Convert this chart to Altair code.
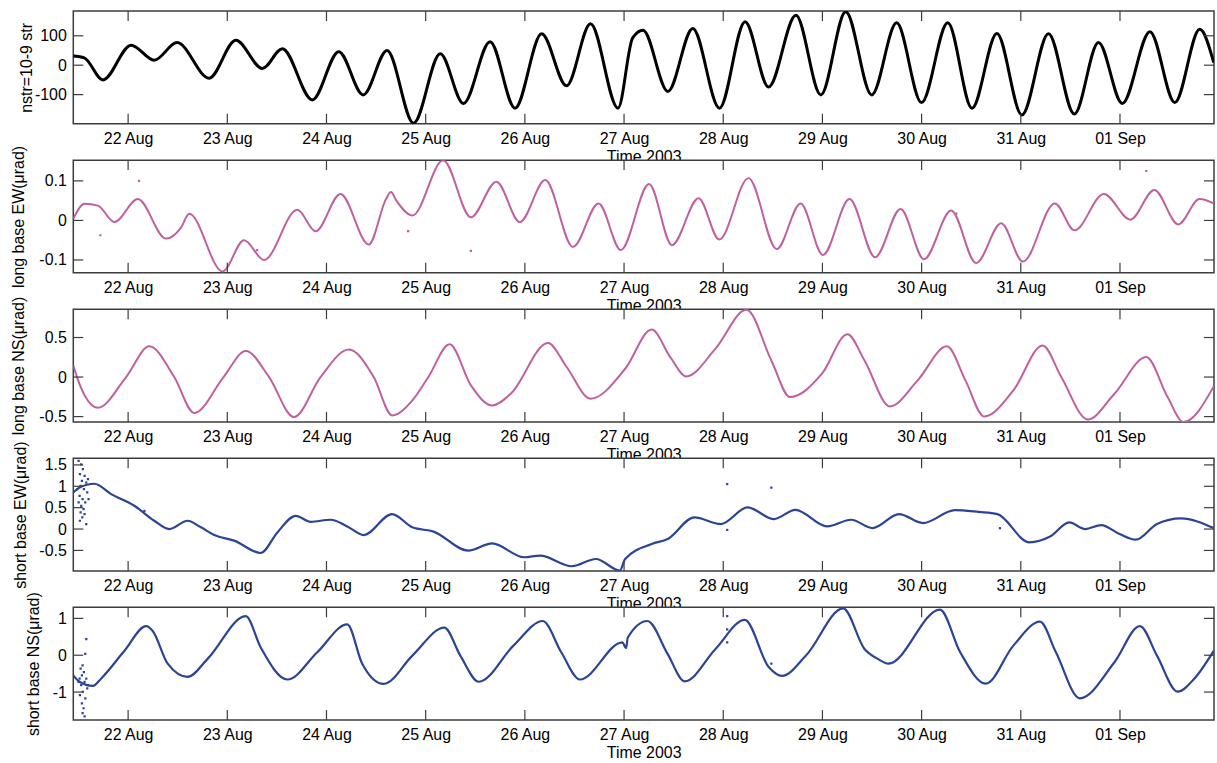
import altair as alt
import pandas as pd

# ---------------- data (time = fractional day of August 2003; 32 = 1 Sep) ----------------
p1_day = [21.447, 21.558, 21.746, 22.030, 22.264, 22.493, 22.817, 23.086, 23.354, 23.555,
          23.857, 24.124, 24.370, 24.611, 24.878, 25.147, 25.381, 25.649, 25.901, 26.169,
          26.420, 26.662, 26.939, 27.087, 27.191, 27.442, 27.693, 27.962, 28.220, 28.457,
          28.733, 28.984, 29.235, 29.497, 29.748, 29.999, 30.264, 30.508, 30.759, 31.011,
          31.279, 31.540, 31.783, 32.023, 32.302, 32.553, 32.804, 32.945]
p1_val = [31, 25, -50, 68, 17, 77, -44, 85, -11, 56,
          -118, 46, -101, 50, -197, 39, -130, 80, -146, 107,
          -70, 141, -146, 93, 119, -89, 125, -146, 148, -74,
          170, -101, 182, -101, 144, -127, 144, -146, 108, -169,
          107, -166, 77, -130, 114, -127, 122, 9]

p2_day = [21.447, 21.561, 21.695, 21.862, 22.098, 22.382, 22.533, 22.616, 22.952, 23.169,
          23.370, 23.706, 23.890, 24.141, 24.426, 24.600, 24.650, 24.705, 24.866, 25.177,
          25.456, 25.713, 25.949, 26.206, 26.485, 26.743, 26.968, 27.252, 27.483, 27.751,
          27.960, 28.255, 28.539, 28.780, 29.005, 29.273, 29.531, 29.788, 30.024, 30.298,
          30.550, 30.802, 31.021, 31.343, 31.542, 31.837, 32.105, 32.346, 32.587, 32.802,
          32.945]
p2_val = [0.004, 0.042, 0.0375, -0.004, 0.054, -0.046, -0.018, 0.017, -0.129, -0.05,
          -0.10, 0.027, -0.0275, 0.067, -0.061, 0.054, 0.072, 0.05, 0.0125, 0.152,
          0.008, 0.098, -0.004, 0.102, -0.067, 0.043, -0.075, 0.092, -0.0625, 0.056,
          -0.048, 0.107, -0.0725, 0.043, -0.0875, 0.054, -0.093, 0.029, -0.098, 0.025,
          -0.108, -0.007, -0.104, 0.043, -0.025, 0.067, 0.002, 0.077, -0.01, 0.054,
          0.043]
p2_dot_day = [21.72, 22.11, 23.30, 24.823, 25.456, 30.35, 32.265]
p2_dot_val = [-0.0375, 0.10, -0.075, -0.027, -0.077, 0.017, 0.125]

p3_day = [21.447, 21.49, 21.695, 21.980, 22.214, 22.465, 22.667, 22.962, 23.186, 23.421,
          23.672, 23.940, 24.225, 24.476, 24.662, 24.866, 25.027, 25.241, 25.456, 25.670,
          25.858, 26.233, 26.421, 26.662, 27.011, 27.279, 27.466, 27.627, 27.922, 28.233,
          28.485, 28.673, 28.995, 29.252, 29.424, 29.681, 29.960, 30.255, 30.442, 30.630,
          30.925, 31.220, 31.408, 31.676, 31.944, 32.265, 32.480, 32.641, 32.945]
p3_val = [0.15, -0.02, -0.387, 0.0, 0.389, 0.0, -0.455, 0.0, 0.33, 0.0,
          -0.506, 0.0, 0.347, 0.0, -0.485, -0.295, 0.0, 0.414, -0.105, -0.359,
          -0.21, 0.43, 0.127, -0.274, 0.105, 0.60, 0.253, 0.008, 0.359, 0.852,
          0.21, -0.253, 0.042, 0.54, 0.21, -0.371, -0.042, 0.388, -0.042, -0.498,
          -0.169, 0.40, 0.0, -0.536, -0.211, 0.253, -0.253, -0.57, -0.118]

p4_day = [21.447, 21.510, 21.661, 21.829, 22.063, 22.264, 22.415, 22.600, 22.734, 22.868,
          23.069, 23.337, 23.505, 23.689, 23.840, 24.041, 24.209, 24.376, 24.661, 24.866,
          25.080, 25.429, 25.670, 25.992, 26.153, 26.475, 26.716, 26.957, 27.011, 27.279,
          27.440, 27.708, 27.976, 28.244, 28.512, 28.727, 29.048, 29.290, 29.504, 29.772,
          30.013, 30.335, 30.576, 30.764, 31.086, 31.300, 31.488, 31.649, 31.810, 31.997,
          32.158, 32.373, 32.614, 32.945]
p4_val = [0.855, 0.97, 1.06, 0.816, 0.544, 0.194, 0.0, 0.194, 0.04, -0.14,
          -0.27, -0.56, -0.078, 0.31, 0.17, 0.218, 0.062, -0.14, 0.35, 0.04,
          -0.06, -0.505, -0.334, -0.66, -0.62, -0.87, -0.70, -0.97, -0.70, -0.35,
          -0.233, 0.272, 0.117, 0.505, 0.233, 0.45, 0.062, 0.218, 0.023, 0.35,
          0.14, 0.443, 0.40, 0.35, -0.31, -0.17, 0.155, 0.0, 0.093, -0.117,
          -0.249, 0.117, 0.249, 0.023]
p4_dot_day = [21.501, 21.527, 21.544, 21.514, 21.561, 21.595, 21.534, 21.578, 21.521, 21.487,
              21.554, 21.588, 21.511, 21.541, 21.501, 21.601, 21.568, 21.527, 21.551, 21.521,
              21.561, 21.538, 21.514, 21.578, 22.164, 28.04, 28.485, 28.04, 30.79]
p4_dot_val = [1.593, 1.515, 1.399, 1.282, 1.243, 1.166, 1.127, 1.088, 1.010, 0.932,
              0.932, 0.855, 0.777, 0.699, 0.622, 0.699, 0.622, 0.544, 0.466, 0.389,
              0.350, 0.272, 0.194, 0.117, 0.427, 1.05, 0.97, -0.02, 0.02]

p5_day = [21.447, 21.510, 21.645, 21.729, 21.963, 22.181, 22.248, 22.399, 22.600, 22.801,
          23.186, 23.337, 23.606, 23.907, 24.209, 24.360, 24.577, 24.866, 25.188, 25.349,
          25.536, 25.885, 26.180, 26.367, 26.555, 26.984, 27.020, 27.038, 27.236, 27.440,
          27.611, 27.922, 28.217, 28.458, 28.593, 28.834, 29.209, 29.424, 29.558, 29.665,
          30.185, 30.389, 30.646, 30.925, 31.193, 31.354, 31.595, 31.944, 32.201, 32.373,
          32.582, 32.748, 32.945]
p5_val = [-0.55, -0.72, -0.83, -0.63, 0.12, 0.79, 0.66, -0.23, -0.59, -0.10,
          1.06, 0.21, -0.66, 0.08, 0.84, -0.23, -0.78, -0.01, 0.75, -0.01,
          -0.72, 0.26, 0.93, 0.08, -0.66, 0.35, 0.19, 0.48, 0.93, 0.03,
          -0.71, 0.17, 0.96, -0.32, -0.56, -0.01, 1.27, 0.17, -0.10, -0.23,
          1.24, 0.08, -0.77, 0.26, 0.91, 0.08, -1.17, -0.19, 0.79, -0.01,
          -0.99, -0.64, 0.12]
p5_dot_day = [21.578, 21.568, 21.541, 21.521, 21.554, 21.534, 21.511, 21.561, 21.527, 21.588,
              21.544, 21.514, 21.568, 21.534, 21.551, 21.541, 21.561, 21.501, 21.595, 21.578,
              28.04, 28.04, 28.04, 28.485]
p5_dot_val = [0.437, 0.035, -0.278, -0.367, -0.457, -0.546, -0.635, -0.725, -0.814, -0.903,
              -0.992, -1.081, -1.171, -1.305, -1.440, -1.574, -1.662, -0.725, -0.814, -0.635,
              1.06, 0.70, 0.35, -0.23]

x_tick_day = [22, 23, 24, 25, 26, 27, 28, 29, 30, 31, 32]

# ---------------- helpers ----------------
W, H = 1144, 113
TICK = 10
FRAME = "#3c3c3c"
PINK = "#c0609f"
BLUE = "#2b4494"
FONT = "Liberation Sans"


def to_iso(days):
    base = pd.Timestamp("2003-08-01")
    return [(base + pd.Timedelta(days=d - 1)).strftime("%Y-%m-%dT%H:%M:%S") for d in days]


X_DOMAIN = [alt.DateTime(year=2003, month=8, date=21, hours=10, minutes=44),
            alt.DateTime(year=2003, month=9, date=1, hours=22, minutes=45)]
X_VALUES = [alt.DateTime(year=2003, month=8, date=d) for d in range(22, 32)] + \
           [alt.DateTime(year=2003, month=9, date=1)]


def panel(days, vals, color, sw, ydom, yvals, ytitle, title_x, dot_days=None, dot_vals=None):
    xscale = alt.Scale(domain=X_DOMAIN)
    yscale = alt.Scale(domain=ydom, nice=False, zero=False)
    xaxis = alt.Axis(values=X_VALUES, format="%d %b", title="Time 2003",
                     labelPadding=7, titlePadding=2)
    yaxis = alt.Axis(values=yvals, title=ytitle, labelExpr="datum.value + ''",
                     labelPadding=7, titleX=title_x, titleBaseline="middle")
    xe = alt.X("t:T", scale=xscale, axis=xaxis)
    ye = alt.Y("v:Q", scale=yscale, axis=yaxis)

    df = pd.DataFrame({"t": to_iso(days), "v": vals})
    line = alt.Chart(df).mark_line(
        color=color, strokeWidth=sw, interpolate="monotone", clip=True, strokeJoin="round"
    ).encode(x=xe, y=ye)
    layers = [line]
    if dot_days:
        ddf = pd.DataFrame({"t": to_iso(dot_days), "v": dot_vals})
        layers.append(
            alt.Chart(ddf).mark_square(color=color, size=5, opacity=1, clip=True).encode(x=xe, y=ye)
        )
    xt = pd.DataFrame({"t": to_iso(x_tick_day)})
    yt = pd.DataFrame({"v": yvals})
    top = alt.Chart(xt).mark_rule(color=FRAME, strokeWidth=1.2).encode(
        x=xe, y=alt.value(0), y2=alt.value(TICK))
    bot = alt.Chart(xt).mark_rule(color=FRAME, strokeWidth=1.2).encode(
        x=xe, y=alt.value(H - TICK), y2=alt.value(H))
    left = alt.Chart(yt).mark_rule(color=FRAME, strokeWidth=1.2).encode(
        y=ye, x=alt.value(0), x2=alt.value(TICK))
    right = alt.Chart(yt).mark_rule(color=FRAME, strokeWidth=1.2).encode(
        y=ye, x=alt.value(W - TICK), x2=alt.value(W))
    return alt.layer(*layers, top, bot, left, right).properties(width=W, height=H)


c1 = panel(p1_day, p1_val, "black", 3, [-199, 184], [100, 0, -100], "nstr=10-9 str", -47)
c2 = panel(p2_day, p2_val, PINK, 2, [-0.1325, 0.1525], [0.1, 0, -0.1],
           "long base EW(μrad)", -54.5, p2_dot_day, p2_dot_val)
c3 = panel(p3_day, p3_val, PINK, 2, [-0.567, 0.858], [0.5, 0, -0.5],
           "long base NS(μrad)", -55)
c4 = panel(p4_day, p4_val, BLUE, 2.2, [-0.98, 1.655], [1.5, 1, 0.5, 0, -0.5],
           "short base EW(μrad)", -53, p4_dot_day, p4_dot_val)
c5 = panel(p5_day, p5_val, BLUE, 2.2, [-1.76, 1.30], [1, 0, -1],
           "short base NS(μrad)", -40, p5_dot_day, p5_dot_val)

chart = alt.vconcat(c1, c2, c3, c4, c5, spacing=36.5, bounds="flush").properties(
    padding={"left": 9.5, "top": 8, "right": 1, "bottom": 0},
    background="white",
).configure_view(
    stroke=FRAME, strokeWidth=1.5, fill="white"
).configure_axis(
    labelFont=FONT, labelFontSize=16, labelColor="black",
    titleFont=FONT, titleFontSize=16, titleFontWeight="normal", titleColor="black",
    domain=False, ticks=False, tickSize=0, grid=False,
)

chart.save("out.html", embed_options={"renderer": "svg", "actions": False})
